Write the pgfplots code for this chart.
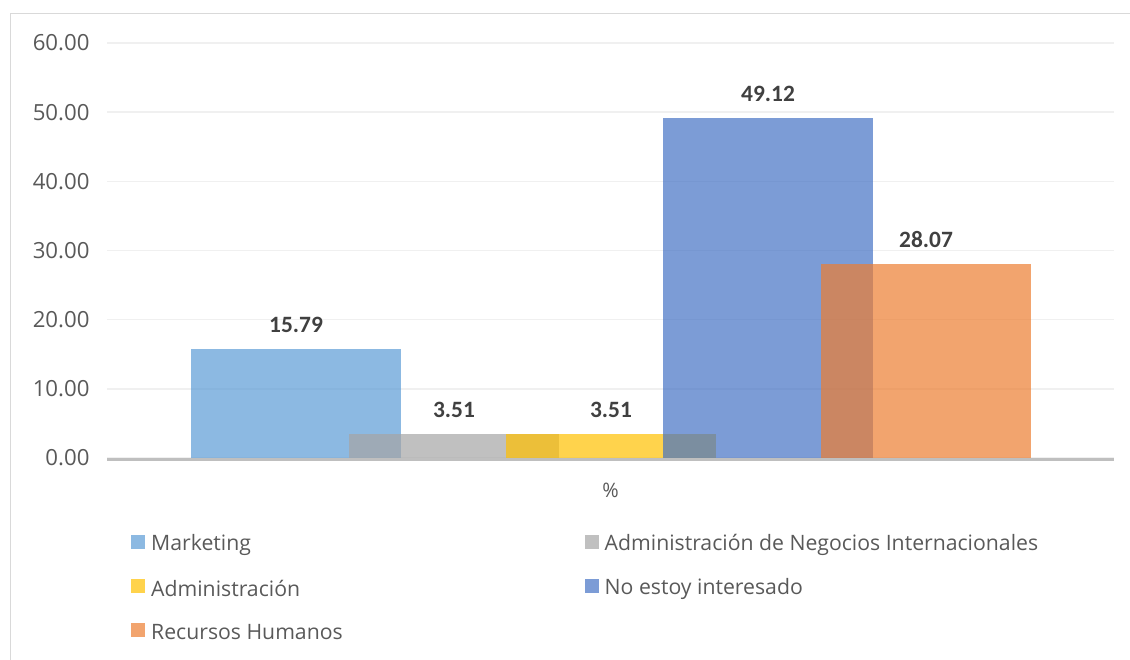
\documentclass[border=0pt]{standalone}
\usepackage{fontspec}
\setmainfont{Open Sans}
\newfontfamily\lblfont{Carlito}
\usepackage{pgfplots}
\pgfplotsset{compat=1.18}
\definecolor{cA}{HTML}{5B9BD5}
\definecolor{cB}{HTML}{A5A5A5}
\definecolor{cC}{HTML}{FFC000}
\definecolor{cD}{HTML}{4472C4}
\definecolor{cE}{HTML}{ED7D31}
\definecolor{txt}{HTML}{595959}
\definecolor{lbl}{HTML}{404040}
\begin{document}
\begin{tikzpicture}[x=1bp,y=1bp]
\useasboundingbox (0,0) rectangle (1130,660);
\draw[color=black!15, line width=1.5bp] (10.5,-5) -- (10.5,646.5) -- (1140,646.5);
\begin{axis}[
  at={(107bp,202bp)}, anchor=origin,
  scale only axis, width=1007bp, height=415bp,
  xmin=0, xmax=1007, ymin=0, ymax=60,
  axis x line*=bottom, axis y line*=left,
  x axis line style={draw=none},
  y axis line style={draw=none},
  major tick length=0pt,
  ytick={0,10,...,60},
  /pgf/number format/assume math mode=true,
  yticklabel={\pgfmathprintnumber[fixed,fixed zerofill,precision=2]{\tick}},
  yticklabel style={text=txt, font=\fontsize{22.3}{24}\selectfont, xshift=-14bp},
  ymajorgrids, grid style={color=black!6, line width=1.5bp},
  xtick=\empty,
  clip=false,
  every axis plot/.append style={ybar, bar width=210, bar shift=0pt, draw=none, fill opacity=0.7,
     nodes near coords, every node near coord/.append style={font=\lblfont\bfseries\fontsize{23.5}{26}\selectfont, text=lbl, fill opacity=1, yshift=13bp},
     nodes near coords={\pgfmathprintnumber[fixed,fixed zerofill,precision=2]{\pgfplotspointmeta}}},
]
\addplot[fill=cA] coordinates {(189,15.79)};
\addplot[fill=cB] coordinates {(347,3.51)};
\addplot[fill=cC] coordinates {(504,3.51)};
\addplot[fill=cD] coordinates {(661,49.12)};
\addplot[fill=cE] coordinates {(819,28.07)};
\draw[black!25, line width=3bp] (axis cs:0,0) ++(0,-1.2bp) -- ++(1007bp,0);
\node[text=txt, font=\fontsize{20}{22}\selectfont] at (axis cs:503.5,0) [yshift=-32bp] {\%};
\end{axis}
% legend
\fill[cA, fill opacity=0.7] (131,111) rectangle (145,124.5);
\node[anchor=west, inner sep=0pt, text=txt, font=\fontsize{21.3}{24}\selectfont] at (151,115.5) {Marketing};
\fill[cB, fill opacity=0.7] (584.5,111) rectangle (598.5,124.5);
\node[anchor=west, inner sep=0pt, text=txt, font=\fontsize{21.3}{24}\selectfont] at (604.5,115.5) {Administración de Negocios Internacionales};
\fill[cC, fill opacity=0.7] (131,67) rectangle (145,80.5);
\node[anchor=west, inner sep=0pt, text=txt, font=\fontsize{21.3}{24}\selectfont] at (151,71.5) {Administración};
\fill[cD, fill opacity=0.7] (584.5,67) rectangle (598.5,80.5);
\node[anchor=west, inner sep=0pt, text=txt, font=\fontsize{21.3}{24}\selectfont] at (604.5,71.5) {No estoy interesado};
\fill[cE, fill opacity=0.7] (131,23) rectangle (145,36.5);
\node[anchor=west, inner sep=0pt, text=txt, font=\fontsize{21.3}{24}\selectfont] at (151,27.5) {Recursos Humanos};
\end{tikzpicture}
\end{document}
